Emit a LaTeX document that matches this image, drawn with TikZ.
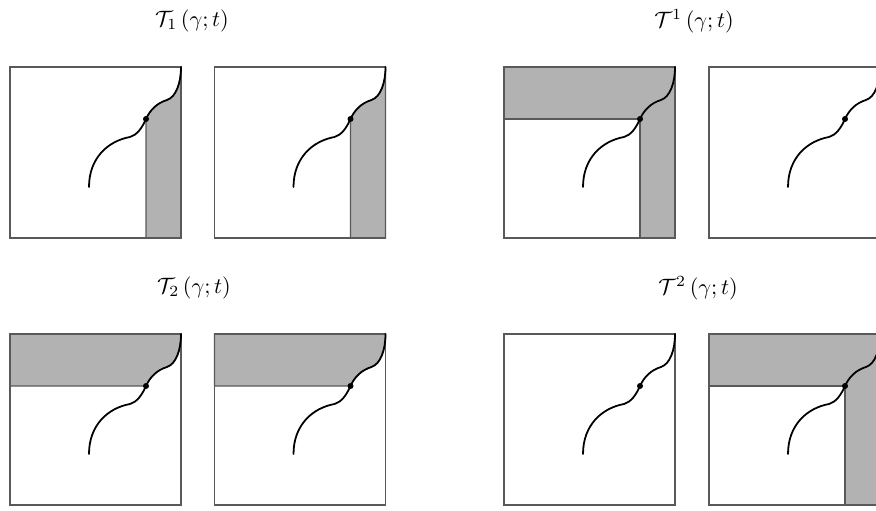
\documentclass[tikz,border=0pt]{standalone}
\usepackage{amsmath}

\begin{document}
\begin{tikzpicture}[
  x=0.45pt,y=0.45pt,
  frame/.style={draw=black!65,line width=0.5pt},
  region/.style={fill=black!30,draw=black!65,line width=0.5pt},
  gcurve/.style={line width=0.8pt,line cap=round},
  gam/.pic={
    \draw[gcurve] (79,51) .. controls (79,80) and (98,97) .. (120,101)
      .. controls (127,103) and (132,110) .. (136,119)
      .. controls (140,128) and (147,135) .. (157,138)
      .. controls (166,141) and (171,155) .. (171,171);
    \fill (136,119) circle (3);
  }
]
\clip (0,0) rectangle (876,510);

\node (t1) at (192,489) {$\mathcal{T}_1\left(\gamma;t\right)$};
\node (tup1) at (694,489) {$\mathcal{T}^1\left(\gamma;t\right)$};
\node (t2) at (194,222) {$\mathcal{T}_2\left(\gamma;t\right)$};
\node (tup2) at (698,222) {$\mathcal{T}^2\left(\gamma;t\right)$};

% shaded parts
\foreach \px in {10,214.5}{
  \filldraw[region,shift={(\px,272)}] (136,0) -- (136,119)
    .. controls (140,128) and (147,135) .. (157,138)
    .. controls (166,141) and (171,155) .. (171,171) -- (171,0) -- cycle;
  \filldraw[region,shift={(\px,5)}] (0,119) -- (136,119)
    .. controls (140,128) and (147,135) .. (157,138)
    .. controls (166,141) and (171,155) .. (171,171) -- (0,171) -- cycle;
}
\foreach \px/\py in {504/272,709/5}
  \filldraw[region,shift={(\px,\py)}] (0,171) -- (0,119) -- (136,119) -- (136,0)
    -- (171,0) -- (171,171) -- cycle;

% squares and the curve
\foreach \px in {10,214.5,504,709}
  \foreach \py in {272,5}{
    \draw[frame] (\px,\py) rectangle ++(171,171);
    \pic at (\px,\py) {gam};
  }
\end{tikzpicture}
\end{document}
